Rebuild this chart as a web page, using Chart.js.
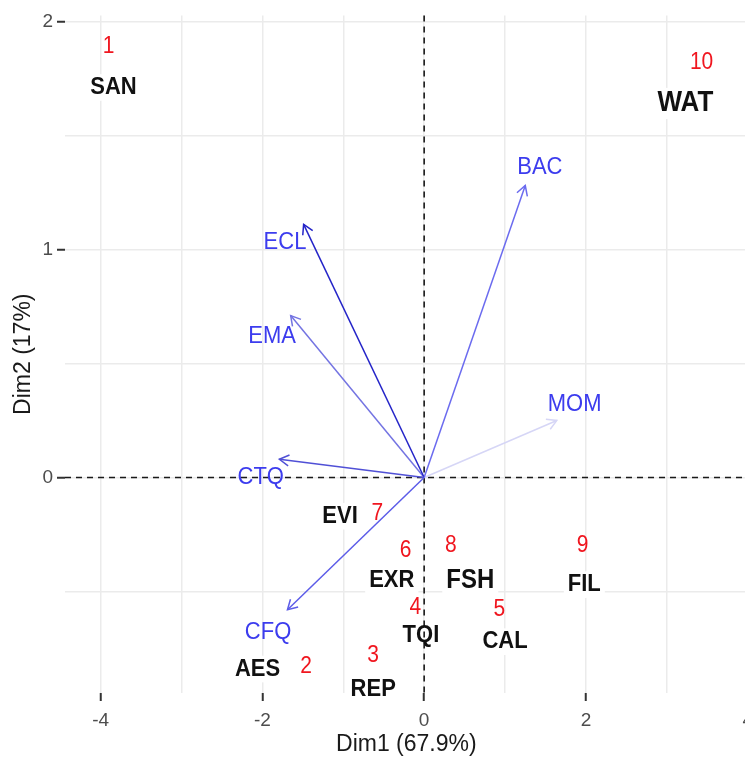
<!DOCTYPE html>
<html>
<head>
<meta charset="utf-8">
<script src="https://cdn.jsdelivr.net/npm/chart.js@4.4.1/dist/chart.umd.min.js"></script>
<style>
html, body { margin: 0; padding: 0; overflow: hidden; background: #fff; }
#wrap { width: 761px; height: 758px; }
</style>
</head>
<body>
<div id="wrap"><canvas id="biplot"></canvas></div>
<script>
// individuals (red numbers)
const indNames = ['1', '2', '3', '4', '5', '6', '7', '8', '9', '10'];
const indX = [-3.90, -1.46, -0.63, -0.11, 0.93, -0.23, -0.58, 0.33, 1.96, 3.43];
const indY = [1.89, -0.83, -0.78, -0.57, -0.58, -0.32, -0.16, -0.30, -0.30, 1.82];

// site codes written next to the individuals
const siteNames = ['SAN', 'AES', 'REP', 'TQI', 'CAL', 'EXR', 'EVI', 'FSH', 'FIL', 'WAT'];
const siteX = [-3.84, -2.06, -0.63, -0.04, 1.00, -0.40, -1.04, 0.57, 1.98, 3.23];
const siteY = [1.71, -0.84, -0.93, -0.69, -0.72, -0.45, -0.17, -0.45, -0.47, 1.64];

// variables (arrows)
const varNames = ['BAC', 'ECL', 'EMA', 'MOM', 'CTQ', 'CFQ'];
const varX = [1.25, -1.49, -1.65, 1.64, -1.79, -1.69];
const varY = [1.28, 1.11, 0.71, 0.25, 0.08, -0.58];
const varLabelX = [1.43, -1.72, -1.88, 1.86, -2.02, -1.93];
const varLabelY = [1.36, 1.03, 0.62, 0.32, 0.00, -0.68];

// axis ticks
const xGrid = [-4, -3, -2, -1, 0, 1, 2, 3, 4];
const xLabeled = [-4, -2, 0, 2, 4];
const yGrid = [-0.5, 0, 0.5, 1, 1.5, 2];
const yLabeled = [0, 1, 2];

const FONT = '"Liberation Sans", Arial, sans-serif';
const arrowColors = ['#6b6bef', '#2424c8', '#7474e2', '#d6d6f6', '#5050d6', '#5c5ce8'];
const bigSites = { WAT: 26, FSH: 24 };
const STRETCH = 1.12; // the source picture is slightly taller than wide

const toPoints = (xs, ys) => xs.map((v, i) => ({ x: v, y: ys[i] }));

function tallText(ctx, text, x, y) {
    ctx.save();
    ctx.translate(x, y);
    ctx.scale(1, STRETCH);
    ctx.fillText(text, 0, 0);
    ctx.restore();
}

const biplotLabels = {
    id: 'biplotLabels',
    beforeDatasetsDraw(chart) {
        const { ctx, chartArea: a } = chart;
        const siteMeta = chart.getDatasetMeta(1);
        ctx.save();
        // white boxes behind the site codes
        siteNames.forEach((name, i) => {
            const pt = siteMeta.data[i];
            const size = bigSites[name] || 22;
            ctx.font = `bold ${size}px ${FONT}`;
            const w = ctx.measureText(name).width;
            const h = size * STRETCH + 2;
            ctx.fillStyle = '#fff';
            ctx.fillRect(pt.x - w / 2 - 4, pt.y - h / 2, w + 8, h);
        });
        // dashed zero lines
        const x0 = chart.scales.x.getPixelForValue(0);
        const y0 = chart.scales.y.getPixelForValue(0);
        ctx.strokeStyle = '#1a1a1a';
        ctx.lineWidth = 1.6;
        ctx.setLineDash([6, 5]);
        ctx.beginPath();
        ctx.moveTo(x0, a.top);
        ctx.lineTo(x0, a.bottom);
        ctx.moveTo(a.left, y0);
        ctx.lineTo(a.right, y0);
        ctx.stroke();
        ctx.restore();
    },
    afterDatasetsDraw(chart) {
        const { ctx } = chart;
        const { x: xs, y: ys } = chart.scales;
        ctx.save();
        ctx.textAlign = 'center';
        ctx.textBaseline = 'middle';

        // arrow heads + variable names
        varNames.forEach((name, i) => {
            const meta = chart.getDatasetMeta(2 + i);
            const p0 = meta.data[0], p1 = meta.data[1];
            const ang = Math.atan2(p1.y - p0.y, p1.x - p0.x);
            const len = 11, spread = Math.PI / 6;
            ctx.strokeStyle = arrowColors[i];
            ctx.lineWidth = 1.5;
            ctx.beginPath();
            ctx.moveTo(p1.x - len * Math.cos(ang - spread), p1.y - len * Math.sin(ang - spread));
            ctx.lineTo(p1.x, p1.y);
            ctx.lineTo(p1.x - len * Math.cos(ang + spread), p1.y - len * Math.sin(ang + spread));
            ctx.stroke();

            ctx.font = `22px ${FONT}`;
            ctx.fillStyle = '#3c3cee';
            tallText(ctx, name, xs.getPixelForValue(varLabelX[i]), ys.getPixelForValue(varLabelY[i]));
        });

        // red individual numbers
        const indMeta = chart.getDatasetMeta(0);
        ctx.font = `21px ${FONT}`;
        ctx.fillStyle = '#f0161f';
        indNames.forEach((name, i) => {
            tallText(ctx, name, indMeta.data[i].x, indMeta.data[i].y);
        });

        // black site codes
        const siteMeta = chart.getDatasetMeta(1);
        ctx.fillStyle = '#111';
        siteNames.forEach((name, i) => {
            ctx.font = `bold ${bigSites[name] || 22}px ${FONT}`;
            tallText(ctx, name, siteMeta.data[i].x, siteMeta.data[i].y);
        });
        ctx.restore();
    }
};

const datasets = [
    { label: 'individuals', data: toPoints(indX, indY), pointRadius: 0 },
    { label: 'sites', data: toPoints(siteX, siteY), pointRadius: 0 }
];
varNames.forEach((name, i) => {
    datasets.push({
        label: name,
        data: [{ x: 0, y: 0 }, { x: varX[i], y: varY[i] }],
        showLine: true,
        borderColor: arrowColors[i],
        borderWidth: 1.5,
        pointRadius: 0
    });
});

const tickMark = (labeled) => (c) => (c.tick && labeled.includes(c.tick.value)) ? '#333' : 'rgba(0,0,0,0)';

new Chart(document.getElementById('biplot').getContext('2d'), {
    type: 'scatter',
    data: { datasets: datasets },
    options: {
        responsive: true,
        maintainAspectRatio: false,
        animation: false,
        events: [],
        layout: { padding: { top: 6, right: 0, bottom: 0, left: 0 } },
        plugins: { legend: { display: false }, tooltip: { enabled: false } },
        scales: {
            x: {
                type: 'linear',
                min: -4.44,
                max: 4,
                afterBuildTicks: (s) => { s.ticks = xGrid.map(v => ({ value: v })); },
                afterFit: (s) => { s.height = 65; },
                border: { display: false },
                grid: { color: '#ebebeb', lineWidth: 1.5, tickLength: 8, tickWidth: 2, tickColor: tickMark(xLabeled) },
                ticks: {
                    autoSkip: false, maxRotation: 0, padding: 8, color: '#4d4d4d',
                    font: { size: 19, family: FONT },
                    callback: (v) => xLabeled.includes(v) ? String(v) : ''
                },
                title: { display: true, text: 'Dim1 (67.9%)', color: '#1a1a1a', font: { size: 23, family: FONT }, padding: 0 }
            },
            y: {
                type: 'linear',
                min: -0.945,
                max: 2.026,
                afterBuildTicks: (s) => { s.ticks = yGrid.map(v => ({ value: v })); },
                afterFit: (s) => { s.width = 65; },
                border: { display: false },
                grid: { color: '#ebebeb', lineWidth: 1.5, tickLength: 8, tickWidth: 2, tickColor: tickMark(yLabeled) },
                ticks: {
                    autoSkip: false, padding: 4, color: '#4d4d4d',
                    font: { size: 19, family: FONT },
                    callback: (v) => yLabeled.includes(v) ? String(v) : ''
                },
                title: { display: true, text: 'Dim2 (17%)', color: '#1a1a1a', font: { size: 23, family: FONT }, padding: 10 }
            }
        }
    },
    plugins: [biplotLabels]
});
</script>
</body>
</html>
